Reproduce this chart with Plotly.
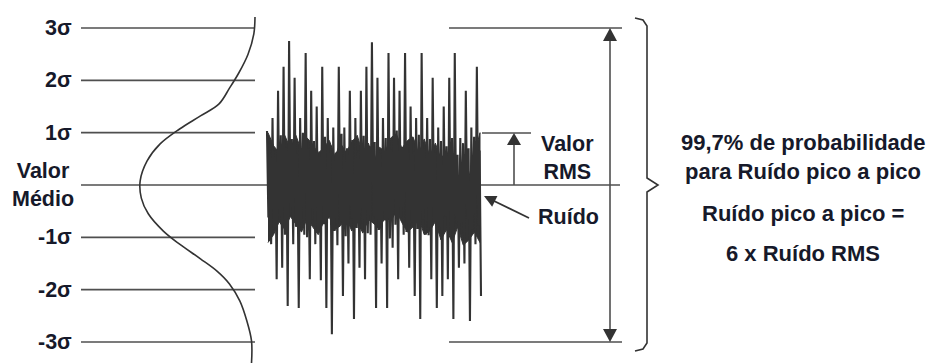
import numpy as np
import plotly.graph_objects as go

# ---------------- data ----------------
sigma_levels = [3, 2, 1, 0, -1, -2, -3]
sigma_labels = ["3σ", "2σ", "1σ", "", "-1σ", "-2σ", "-3σ"]
mean_label = "Valor<br>Médio"

# Gaussian curve (sigma position, relative density)
curve_sigma = [3.21, 2.89, 2.50, 2.14, 1.85, 1.55, 1.32, 1.07, 0.78, 0.46, 0.08,
               -0.25, -0.55, -0.88, -1.13, -1.41, -1.64, -1.89, -2.22, -2.60, -2.98, -3.40]
curve_density = [0.00, 0.01, 0.06, 0.14, 0.22, 0.31, 0.47, 0.65, 0.82, 0.93, 0.99,
                 0.98, 0.92, 0.79, 0.65, 0.47, 0.33, 0.22, 0.13, 0.07, 0.03, 0.03]

# Noise signal (in sigma units): peaks, troughs and in-between samples
noise_peaks = [1.03, 1.28, 1.80, 2.26, 2.75, 2.05, 1.28, 2.52, 1.80, 1.50, 2.26, 1.28, 1.10,
               2.26, 1.10, 1.80, 1.28, 1.80, 2.26, 2.73, 2.05, 1.28, 2.52, 2.05, 1.80, 2.52,
               1.50, 1.28, 2.52, 1.28, 2.05, 1.10, 1.50, 2.05, 2.52, 0.90, 1.80, 1.10, 2.26]
noise_troughs = [-1.13, -1.80, -1.58, -2.31, -1.13, -2.35, -0.95, -1.80, -1.13, -1.82, -2.35,
                 -2.85, -1.15, -2.12, -1.50, -2.56, -1.58, -1.80, -0.95, -2.35, -1.50, -2.35,
                 -1.20, -1.80, -0.95, -1.58, -2.12, -2.56, -0.95, -1.80, -2.35, -2.12, -1.80,
                 -2.56, -1.58, -1.50, -2.60, -1.13, -2.12]
noise_mid_low = [-0.62, -0.85, -0.70, -0.95, -0.58, -0.80, -0.72, -1.00, -0.66, -0.90, -0.75,
                 -0.60, -0.88, -0.70, -0.98, -0.64, -0.82, -0.74, -0.92, -0.60, -0.86, -0.68,
                 -1.02, -0.76, -0.62, -0.90, -0.72, -0.84, -0.66, -0.96, -0.70, -0.80, -0.60,
                 -0.88, -0.74, -0.92, -0.65, -0.85, -0.78]
noise_mid_high = [0.80, 0.66, 0.95, 0.72, 0.88, 0.60, 1.00, 0.70, 0.84, 0.64, 0.92, 0.76, 0.62,
                  0.98, 0.70, 0.86, 0.66, 0.94, 0.74, 0.82, 0.60, 0.90, 0.68, 1.04, 0.72, 0.78,
                  0.64, 0.96, 0.70, 0.88, 0.62, 0.84, 0.74, 0.90, 0.58, 0.80, 0.70, 0.92, 0.66]
# solid dark core of the noise band (upper / lower ragged edges, sigma units)
core_upper = [1.00, 0.75, 0.62, 0.95, 0.70, 0.95, 0.66, 0.90, 0.78, 0.60, 0.72, 0.85, 0.55,
              0.80, 0.62, 0.82, 0.95, 0.58, 0.80, 0.46, 0.72, 0.64, 0.90, 0.98, 0.70, 0.85,
              0.92, 0.60, 0.88, 0.55, 0.80, 0.50, 0.66, 0.34, 0.10, 0.30, 0.15, 0.60, 1.00]
core_lower = [-1.10, -0.95, -0.70, -0.85, -0.60, -0.75, -0.90, -0.65, -0.80, -0.95, -0.70,
              -0.62, -0.85, -0.78, -0.60, -0.88, -0.70, -0.92, -0.66, -0.74, -0.85, -0.60,
              -0.70, -0.50, -0.72, -0.90, -0.80, -0.62, -0.95, -0.88, -0.70, -1.05, -0.85,
              -1.10, -0.80, -1.15, -1.05, -0.90, -1.10]

rms_label = "Valor<br>RMS"
noise_label = "Ruído"
right_lines = ["99,7% de probabilidade", "para Ruído pico a pico",
               "Ruído pico a pico =", "6 x Ruído RMS"]

# ---------------- layout helpers ----------------
W, H = 927, 363
MEAN_PY = 185.0
PX_PER_SIGMA = 52.33


def s(py):
    return (MEAN_PY - py) / PX_PER_SIGMA


LINE_C = "#4f4f4f"
DARK = "#333333"
TEXT_C = "#16192a"
FONT = "Liberation Sans, Arial, sans-serif"
FS = 21.5

noise = []
for p, lo, hi, t in zip(noise_peaks, noise_mid_low, noise_mid_high, noise_troughs):
    noise += [p, lo, hi, t]
noise_x = np.linspace(267, 481, len(noise))
core_x = np.linspace(268, 480, len(core_upper))

curve_x = [255 - 116 * d for d in curve_density]

fig = go.Figure()

fig.add_trace(go.Scatter(x=curve_x, y=curve_sigma, mode="lines",
                         line=dict(color=DARK, width=1.6, shape="spline", smoothing=1.0),
                         hoverinfo="skip", showlegend=False))

shapes = []
for lv in sigma_levels:
    x1 = 620 if lv == 0 else 255
    shapes.append(dict(type="line", xref="x", yref="y", x0=81, x1=x1, y0=lv, y1=lv,
                       line=dict(color=LINE_C, width=1.6), layer="below"))
for lv in (3, -3):
    shapes.append(dict(type="line", xref="x", yref="y", x0=449, x1=622, y0=lv, y1=lv,
                       line=dict(color=LINE_C, width=1.6)))
shapes.append(dict(type="line", xref="x", yref="y", x0=482, x1=531, y0=s(133), y1=s(133),
                   line=dict(color=LINE_C, width=1.6)))

fig.add_trace(go.Scatter(x=list(core_x) + list(core_x[::-1]),
                         y=core_upper + core_lower[::-1], mode="lines", fill="toself",
                         fillcolor=DARK, line=dict(color=DARK, width=1),
                         hoverinfo="skip", showlegend=False))
fig.add_trace(go.Scatter(x=noise_x, y=noise, mode="lines",
                         line=dict(color=DARK, width=2.1),
                         hoverinfo="skip", showlegend=False))


def head(tip, tail, length, half):
    tx, ty = tip
    ux, uy = tip[0] - tail[0], tip[1] - tail[1]
    n = (ux ** 2 + uy ** 2) ** 0.5
    ux, uy = ux / n, uy / n
    bx, by = tx - length * ux, ty - length * uy
    px, py = -uy * half, ux * half
    pts = [(tx, ty), (bx + px, by + py), (bx - px, by - py)]
    return "M " + " L ".join(f"{x:.2f},{s(y):.4f}" for x, y in pts) + " Z"


def shaft(p0, p1, color=LINE_C, width=1.6):
    return dict(type="line", xref="x", yref="y", x0=p0[0], y0=s(p0[1]),
                x1=p1[0], y1=s(p1[1]), line=dict(color=color, width=width))


# big double arrow
shapes.append(shaft((610, 38), (610, 332)))
shapes.append(dict(type="path", xref="x", yref="y", path=head((610, 28), (610, 200), 13, 7),
                   fillcolor=DARK, line=dict(width=0)))
shapes.append(dict(type="path", xref="x", yref="y", path=head((610, 342), (610, 200), 13, 7),
                   fillcolor=DARK, line=dict(width=0)))
# RMS arrow
shapes.append(shaft((514, 185), (514, 143)))
shapes.append(dict(type="path", xref="x", yref="y", path=head((514, 133), (514, 185), 12, 7),
                   fillcolor=DARK, line=dict(width=0)))
# Ruído arrow
shapes.append(shaft((529, 218), (492, 200), color=DARK, width=1.8))
shapes.append(dict(type="path", xref="x", yref="y", path=head((484, 196), (529, 218), 12, 6),
                   fillcolor=DARK, line=dict(width=0)))
# brace
brace_pts = [(635, 18), (643, 20), (647, 26), (647, 178), (658, 185), (647, 192),
             (647, 343), (643, 349), (635, 351)]
brace_path = "M " + " L ".join(f"{x},{s(y):.4f}" for x, y in brace_pts)
shapes.append(dict(type="path", xref="x", yref="y", path=brace_path,
                   line=dict(color=DARK, width=1.6)))

annotations = []
for lv, lab in zip(sigma_levels, sigma_labels):
    if lab:
        annotations.append(dict(x=74, y=lv, xref="x", yref="y", text=f"<b>{lab}</b>",
                                xanchor="right", yanchor="middle", showarrow=False,
                                font=dict(size=FS, color=TEXT_C, family=FONT)))
annotations.append(dict(x=43, y=0, xref="x", yref="y", text=f"<b>{mean_label}</b>",
                        xanchor="center", yanchor="middle", showarrow=False, align="center",
                        font=dict(size=FS, color=TEXT_C, family=FONT)))
annotations.append(dict(x=567, y=s(158), xref="x", yref="y", text=f"<b>{rms_label}</b>",
                        xanchor="center", yanchor="middle", showarrow=False, align="center",
                        font=dict(size=FS, color=TEXT_C, family=FONT)))
annotations.append(dict(x=536, y=s(217), xref="x", yref="y", text=f"<b>{noise_label}</b>",
                        xanchor="left", yanchor="middle", showarrow=False,
                        font=dict(size=FS, color=TEXT_C, family=FONT)))
for txt, py in zip(right_lines, [142, 171, 213, 253]):
    annotations.append(dict(x=803, y=s(py), xref="x", yref="y", text=f"<b>{txt}</b>",
                            xanchor="center", yanchor="middle", showarrow=False,
                            font=dict(size=22, color=TEXT_C, family=FONT)))

fig.update_layout(
    width=W, height=H, margin=dict(l=0, r=0, t=0, b=0),
    paper_bgcolor="white", plot_bgcolor="white",
    xaxis=dict(range=[0, W], visible=False, fixedrange=True),
    yaxis=dict(range=[s(H), s(0)], visible=False, fixedrange=True),
    shapes=shapes, annotations=annotations, showlegend=False,
)

fig.write_html("out.html", config={"displayModeBar": False},
               post_script="document.body.style.margin='0px';document.body.style.overflow='hidden';")
